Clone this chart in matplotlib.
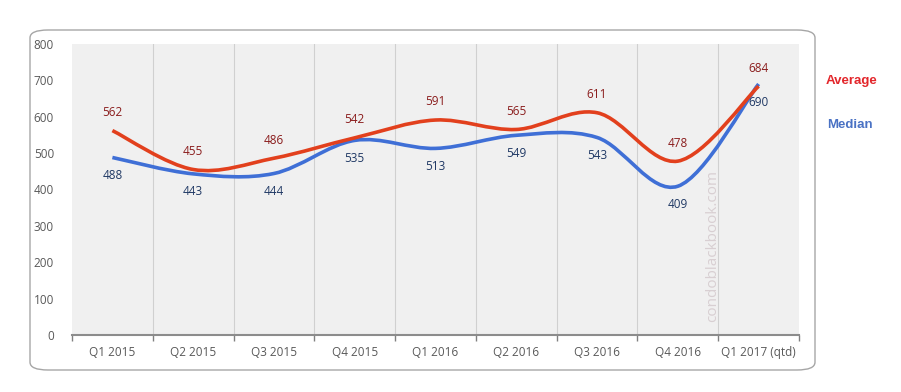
import matplotlib
matplotlib.use("Agg")
import matplotlib.pyplot as plt
from matplotlib.path import Path
from matplotlib.patches import PathPatch, FancyBboxPatch

# data
quarters = ["Q1 2015", "Q2 2015", "Q3 2015", "Q4 2015", "Q1 2016",
            "Q2 2016", "Q3 2016", "Q4 2016", "Q1 2017 (qtd)"]
average = [562, 455, 486, 542, 591, 565, 611, 478, 684]
median = [488, 443, 444, 535, 513, 549, 543, 409, 690]

plt.rcParams['font.family'] = ['Open Sans', 'DejaVu Sans']

fig = plt.figure(figsize=(9.01, 3.92), dpi=100)

# rounded frame round the chart
frame = FancyBboxPatch((30/901, 22/392), 785/901, 340/392,
                       boxstyle="round,pad=0,rounding_size=0.02",
                       transform=fig.transFigure, facecolor="white",
                       edgecolor="#a6a6a6", linewidth=1.0, zorder=-1)
fig.patches.append(frame)

ax = fig.add_axes([72/901, 57/392, 727/901, 291/392])
ax.set_zorder(1)
ax.set_facecolor("#f0f0f0")
ax.set_xlim(-0.5, len(quarters) - 0.5)
ax.set_ylim(0, 800)


def smooth_path(xs, ys):
    # catmull-rom style bezier, like Excel's "smoothed line"
    pts = list(zip(xs, ys))
    verts = [pts[0]]
    codes = [Path.MOVETO]
    n = len(pts)
    for i in range(n - 1):
        p0 = pts[i - 1] if i > 0 else pts[i]
        p1 = pts[i]
        p2 = pts[i + 1]
        p3 = pts[i + 2] if i + 2 < n else pts[i + 1]
        c1 = (p1[0] + (p2[0] - p0[0]) / 6, p1[1] + (p2[1] - p0[1]) / 6)
        c2 = (p2[0] - (p3[0] - p1[0]) / 6, p2[1] - (p3[1] - p1[1]) / 6)
        verts += [c1, c2, p2]
        codes += [Path.CURVE4] * 3
    return Path(verts, codes)


xs = list(range(len(quarters)))
ax.add_patch(PathPatch(smooth_path(xs, median), facecolor="none",
                       edgecolor="#3f6fd6", linewidth=2.6, zorder=3))
ax.add_patch(PathPatch(smooth_path(xs, average), facecolor="none",
                       edgecolor="#e2401d", linewidth=2.6, zorder=4))

for x, v in zip(xs, average):
    ax.annotate(str(v), (x, v), xytext=(0, 13), textcoords="offset points",
                ha="center", va="center", fontsize=8.5, color="#8a1c1c", zorder=5)
for x, v in zip(xs, median):
    ax.annotate(str(v), (x, v), xytext=(0, -13), textcoords="offset points",
                ha="center", va="center", fontsize=8.5, color="#1f3864", zorder=5)

# vertical separators between categories
for b in range(1, len(quarters)):
    ax.axvline(b - 0.5, color="#d0d0d0", linewidth=0.8, zorder=1)

ax.set_xticks(xs)
ax.set_xticklabels(quarters, fontsize=8.5, color="#595959")
ax.set_xticks([b - 0.5 for b in range(len(quarters) + 1)], minor=True)
ax.tick_params(axis="x", which="major", length=0, pad=8)
ax.tick_params(axis="x", which="minor", length=4, color="#808080", width=1)
ax.set_yticks(range(0, 801, 100))
ax.tick_params(axis="y", length=0, labelsize=8.5, labelcolor="#595959", pad=13)

for s in ["top", "right", "left"]:
    ax.spines[s].set_visible(False)
ax.spines["bottom"].set_color("#8c8c8c")
ax.spines["bottom"].set_linewidth(1.5)

# watermark
ax.text(7.43, 35, "condoblackbook.com", rotation=90, ha="center", va="bottom",
        fontsize=11, color="#d8cfd2", zorder=2)

# legend as coloured text
fig.text(852/901, 1 - 81/392, "Average", color="#e3262b", fontsize=9.5,
         fontweight="bold", ha="center", va="center", family="Liberation Sans")
fig.text(850/901, 1 - 125/392, "Median", color="#4a72c4", fontsize=9.5,
         fontweight="bold", ha="center", va="center", family="Liberation Sans")

fig.savefig("out.png", dpi=100)
